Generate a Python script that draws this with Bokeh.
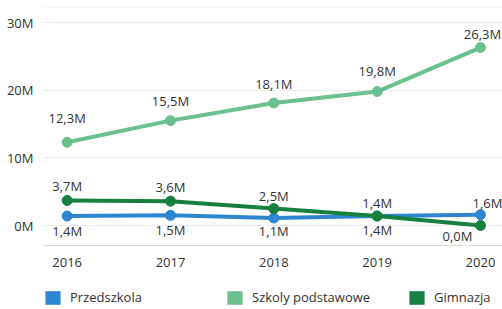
from bokeh.plotting import figure
from bokeh.layouts import column
from bokeh.models import Legend, LegendItem, FixedTicker, Range1d, Span, ColumnDataSource
from bokeh.core.properties import value
from bokeh.embed import file_html
from bokeh.resources import INLINE

# ---- data ----
years = [2016, 2017, 2018, 2019, 2020]
przedszkola = [1.4, 1.5, 1.1, 1.4, 1.6]
szkoly = [12.3, 15.5, 18.1, 19.8, 26.3]
gimnazja = [3.7, 3.6, 2.5, 1.4, 0.0]
series_names = ["Przedszkola", "Szkoly podstawowe", "Gimnazja"]
y_ticks = [0, 10, 20, 30]
y_tick_labels = ["0M", "10M", "20M", "30M"]
x_tick_labels = ["2016", "2017", "2018", "2019", "2020"]

# ---- styles ----
colors = ["#2f86d0", "#6cbf8e", "#17803f"]
FONT = "Open Sans"
TXT = "#333333"
# label offsets in screen px (x right, y down)
label_dx = [[0, 0, 0, 0, 7], [0, 0, 0, 0, 2], [0, 0, 0, 0, -23]]
label_dy = [[15, 15, 13, 14, -12], [-24, -20, -19, -21, -14], [-14, -14, -13, -13, 10]]


def fmt(v):
    return ("%.1fM" % v).replace(".", ",")


p = figure(width=502, height=280, output_backend="svg", toolbar_location=None,
           x_range=Range1d(2015.771, 2020.213), y_range=Range1d(-2.955, 32.22),
           min_border_left=43, min_border_right=0, min_border_top=7, min_border_bottom=35)
p.outline_line_color = None
p.background_fill_color = "white"
p.xgrid.grid_line_color = None
p.ygrid.grid_line_color = "#ebebeb"
p.ygrid.ticker = FixedTicker(ticks=y_ticks)

top_line = Span(location=p.y_range.end, dimension="width", line_color="#ebebeb", line_width=1)
p.add_layout(top_line)

p.yaxis.ticker = FixedTicker(ticks=y_ticks)
p.yaxis.major_label_overrides = {t: l for t, l in zip(y_ticks, y_tick_labels)}
p.yaxis.axis_line_color = None
p.yaxis.major_tick_line_color = None
p.yaxis.minor_tick_line_color = None
p.yaxis.major_tick_out = 0
p.yaxis.major_tick_in = 0
p.yaxis.major_label_standoff = 10
p.yaxis.major_label_text_font = FONT
p.yaxis.major_label_text_font_size = "13px"
p.yaxis.major_label_text_color = TXT

p.xaxis.ticker = FixedTicker(ticks=years)
p.xaxis.major_label_overrides = {y: l for y, l in zip(years, x_tick_labels)}
p.xaxis.axis_line_color = "#d9d9d9"
p.xaxis.major_tick_line_color = None
p.xaxis.minor_tick_line_color = None
p.xaxis.major_tick_out = 0
p.xaxis.major_tick_in = 0
p.xaxis.major_label_standoff = 12
p.xaxis.major_label_text_font = FONT
p.xaxis.major_label_text_font_size = "13px"
p.xaxis.major_label_text_color = TXT

# legend panel (its frame is aligned with the main frame by the column layout)
lp = figure(width=502, height=29, output_backend="svg", toolbar_location=None,
            x_range=Range1d(0, 1), y_range=Range1d(0, 1),
            x_axis_location=None, y_axis_location=None, min_border=0)
lp.outline_line_color = None
lp.grid.visible = False

all_series = [przedszkola, szkoly, gimnazja]
legend_items = []
for i, (name, vals) in enumerate(zip(series_names, all_series)):
    src = ColumnDataSource(dict(
        x=years, y=vals, lab=[fmt(v) for v in vals],
        dx=label_dx[i], dy=label_dy[i]))
    p.line("x", "y", source=src, line_color=colors[i], line_width=4, line_cap="round")
    p.scatter("x", "y", source=src, size=10, fill_color=colors[i], line_color=colors[i])
    p.text("x", "y", text="lab", source=src, x_offset="dx", y_offset="dy",
           text_align="center", text_baseline="middle",
           text_font=value(FONT), text_font_size="13px", text_color=TXT)
    # zero-area swatch renderer: only used to draw the legend square
    sw = lp.quad(source=ColumnDataSource(dict(l=[0], r=[0], t=[0], b=[0])),
                 left="l", right="r", top="t", bottom="b",
                 fill_color=colors[i], line_color=None)
    legend_items.append(LegendItem(label=name, renderers=[sw]))

legend = Legend(items=legend_items, orientation="horizontal", location=(0, 3),
                glyph_width=19, glyph_height=17, label_standoff=8, label_width=148,
                spacing=7, padding=0, margin=0, border_line_color=None,
                background_fill_alpha=0, label_text_font=FONT,
                label_text_font_size="13px", label_text_color=TXT)
lp.add_layout(legend, "center")

layout = column(p, lp, spacing=0)
open("out.html", "w").write(file_html(layout, INLINE))
